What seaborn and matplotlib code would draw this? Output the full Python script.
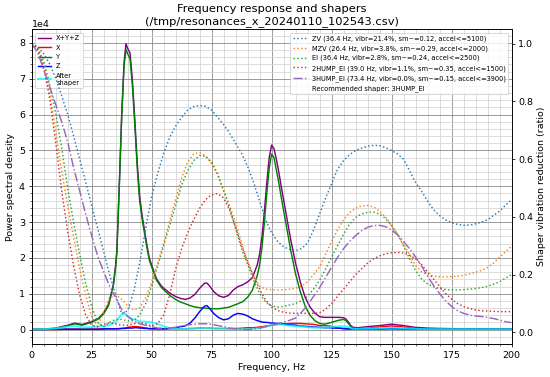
import numpy as np
import pandas as pd
import matplotlib
matplotlib.use("Agg")
import matplotlib.pyplot as plt
import matplotlib.ticker as ticker
import seaborn as sns

# PSD curves (values in 1e4 units)
psd_freq = [0, 5, 10, 15, 18, 21, 25, 28, 30, 32, 34, 35, 35.5, 36.5, 37.5, 38.5, 39.3, 40, 41, 42,
            43, 44, 45, 46, 47, 48, 49, 50, 52, 54, 56, 58, 60, 62, 64, 66, 68, 70, 72, 73,
            74, 76, 78, 80, 82, 84, 86, 88, 90, 92, 94, 95, 96, 97, 98, 99, 100, 101, 102, 103,
            104, 106, 108, 110, 112, 114, 116, 118, 120, 122, 124, 126, 128, 130, 131, 132, 133, 134, 136, 140,
            145, 150, 155, 160, 165, 170, 180, 190, 200]

psd_sum = [0, 0.01, 0.04, 0.12, 0.18, 0.14, 0.22, 0.32, 0.47, 0.7, 1.24, 1.8, 2.2, 4.0, 5.95, 7.45, 7.98, 7.85, 7.72, 6.95,
           5.85, 4.65, 3.72, 3.2, 2.78, 2.37, 2.0, 1.8, 1.42, 1.22, 1.1, 1.0, 0.92, 0.87, 0.84, 0.88, 0.98, 1.15, 1.29, 1.3,
           1.23, 1.05, 0.94, 0.9, 0.95, 1.1, 1.2, 1.25, 1.33, 1.45, 1.8, 2.1, 2.6, 3.3, 4.1, 4.8, 5.15, 5.05, 4.75, 4.4,
           4.0, 3.25, 2.5, 1.85, 1.32, 0.9, 0.63, 0.46, 0.36, 0.34, 0.34, 0.34, 0.34, 0.33, 0.29, 0.21, 0.11, 0.06, 0.05, 0.08,
           0.11, 0.15, 0.11, 0.06, 0.04, 0.03, 0.02, 0.02, 0.02]

psd_x = [0, 0, 0, 0.01, 0.01, 0.01, 0.01, 0.01, 0.01, 0.02, 0.02, 0.02, 0.02, 0.03, 0.03, 0.04, 0.05, 0.06, 0.07, 0.08,
         0.08, 0.08, 0.07, 0.06, 0.05, 0.04, 0.03, 0.03, 0.02, 0.02, 0.02, 0.02, 0.02, 0.02, 0.02, 0.03, 0.03, 0.04, 0.04, 0.04,
         0.04, 0.03, 0.03, 0.03, 0.03, 0.03, 0.03, 0.04, 0.05, 0.05, 0.06, 0.07, 0.08, 0.09, 0.1, 0.11, 0.12, 0.13, 0.14, 0.15,
         0.15, 0.16, 0.17, 0.17, 0.17, 0.16, 0.15, 0.14, 0.11, 0.11, 0.1, 0.07, 0.04, 0.02, 0.01, 0.01, 0.01, 0.01, 0.01, 0.04,
         0.07, 0.1, 0.07, 0.03, 0.02, 0.01, 0.01, 0.01, 0.01]

psd_y = [0, 0.01, 0.03, 0.1, 0.16, 0.12, 0.2, 0.3, 0.44, 0.66, 1.2, 1.75, 2.15, 3.95, 5.9, 7.35, 7.82, 7.7, 7.55, 6.8,
         5.7, 4.5, 3.6, 3.1, 2.7, 2.3, 1.95, 1.75, 1.38, 1.18, 1.05, 0.93, 0.84, 0.77, 0.72, 0.67, 0.63, 0.61, 0.6, 0.59,
         0.59, 0.58, 0.58, 0.6, 0.62, 0.67, 0.72, 0.78, 0.9, 1.1, 1.5, 1.8, 2.3, 3.0, 3.8, 4.5, 4.9, 4.8, 4.45, 4.1,
         3.7, 2.95, 2.2, 1.55, 1.05, 0.65, 0.4, 0.25, 0.17, 0.15, 0.18, 0.22, 0.26, 0.28, 0.25, 0.17, 0.08, 0.03, 0.02, 0.02,
         0.02, 0.02, 0.02, 0.01, 0.01, 0.01, 0.01, 0.01, 0.01]

psd_z = [0, 0, 0.01, 0.01, 0.01, 0.01, 0.01, 0.01, 0.02, 0.02, 0.02, 0.02, 0.02, 0.02, 0.03, 0.03, 0.03, 0.04, 0.04, 0.04,
         0.05, 0.05, 0.04, 0.04, 0.03, 0.03, 0.02, 0.02, 0.02, 0.02, 0.02, 0.04, 0.05, 0.08, 0.1, 0.18, 0.32, 0.5, 0.65, 0.67,
         0.6, 0.44, 0.33, 0.27, 0.3, 0.4, 0.45, 0.43, 0.38, 0.3, 0.25, 0.23, 0.21, 0.2, 0.2, 0.19, 0.18, 0.18, 0.17, 0.17,
         0.16, 0.14, 0.13, 0.12, 0.1, 0.09, 0.08, 0.07, 0.06, 0.05, 0.05, 0.04, 0.04, 0.03, 0.03, 0.03, 0.02, 0.02, 0.02, 0.02,
         0.02, 0.03, 0.02, 0.02, 0.01, 0.01, 0.01, 0.01, 0.01]

psd_after = [0, 0.01, 0.03, 0.08, 0.1, 0.06, 0.07, 0.08, 0.1, 0.11, 0.17, 0.22, 0.25, 0.35, 0.42, 0.45, 0.42, 0.38, 0.33, 0.3,
             0.28, 0.25, 0.23, 0.22, 0.22, 0.21, 0.21, 0.2, 0.17, 0.12, 0.07, 0.03, 0.02, 0.02, 0.02, 0.02, 0.03, 0.03, 0.04, 0.04,
             0.03, 0.03, 0.02, 0.02, 0.01, 0.01, 0.01, 0.01, 0.01, 0.02, 0.03, 0.03, 0.05, 0.07, 0.08, 0.1, 0.13, 0.14, 0.14, 0.14,
             0.14, 0.12, 0.11, 0.09, 0.09, 0.07, 0.06, 0.05, 0.05, 0.06, 0.07, 0.08, 0.09, 0.09, 0.09, 0.07, 0.04, 0.02, 0.02, 0.03,
             0.04, 0.05, 0.04, 0.02, 0.01, 0.01, 0.01, 0.01, 0.01]

# shaper vibration reduction curves
shaper_freq = [0, 2.5, 5, 7.5, 10, 12.5, 15, 17.5, 20, 22.5,
               25, 27.5, 30, 32.5, 35, 37.5, 40, 42.5, 45, 47.5,
               50, 52.5, 55, 57.5, 60, 62.5, 65, 67.5, 70, 72.5,
               75, 77.5, 80, 82.5, 85, 87.5, 90, 92.5, 95, 97.5,
               100, 102.5, 105, 107.5, 110, 112.5, 115, 117.5, 120, 122.5,
               125, 127.5, 130, 132.5, 135, 137.5, 140, 142.5, 145, 147.5,
               150, 152.5, 155, 157.5, 160, 162.5, 165, 167.5, 170, 172.5,
               175, 177.5, 180, 182.5, 185, 187.5, 190, 192.5, 195, 197.5,
               200]

zv = [1.0, 0.99, 0.965, 0.93, 0.88, 0.82, 0.755, 0.68, 0.60, 0.52,
      0.44, 0.36, 0.28, 0.20, 0.13, 0.065, 0.075, 0.14, 0.24, 0.36,
      0.47, 0.55, 0.62, 0.675, 0.715, 0.745, 0.77, 0.782, 0.786, 0.783,
      0.77, 0.745, 0.72, 0.69, 0.655, 0.62, 0.575, 0.52, 0.455, 0.39,
      0.345, 0.315, 0.297, 0.287, 0.283, 0.29, 0.31, 0.355, 0.41, 0.465,
      0.515, 0.565, 0.595, 0.615, 0.63, 0.638, 0.645, 0.648, 0.647, 0.64,
      0.63, 0.618, 0.6, 0.56, 0.52, 0.49, 0.455, 0.425, 0.405, 0.39,
      0.38, 0.374, 0.371, 0.372, 0.376, 0.382, 0.39, 0.405, 0.42, 0.44,
      0.46]

mzv = [1.0, 0.985, 0.93, 0.83, 0.70, 0.56, 0.44, 0.33, 0.22, 0.13,
       0.055, 0.02, 0.07, 0.12, 0.13, 0.115, 0.092, 0.078, 0.085, 0.12,
       0.175, 0.24, 0.31, 0.385, 0.46, 0.535, 0.59, 0.618, 0.623, 0.61,
       0.585, 0.545, 0.495, 0.44, 0.38, 0.31, 0.245, 0.195, 0.16, 0.15,
       0.148, 0.147, 0.148, 0.15, 0.153, 0.16, 0.175, 0.2, 0.227, 0.27,
       0.315, 0.355, 0.39, 0.415, 0.43, 0.438, 0.44, 0.435, 0.42, 0.4,
       0.37, 0.34, 0.305, 0.27, 0.232, 0.21, 0.2, 0.195, 0.193, 0.192,
       0.193, 0.195, 0.198, 0.203, 0.208, 0.215, 0.225, 0.24, 0.26, 0.28,
       0.298]

ei = [1.0, 0.985, 0.94, 0.86, 0.76, 0.64, 0.50, 0.38, 0.27, 0.17,
      0.09, 0.035, 0.02, 0.035, 0.045, 0.045, 0.04, 0.04, 0.06, 0.1,
      0.16, 0.23, 0.3, 0.37, 0.44, 0.51, 0.56, 0.595, 0.613, 0.61,
      0.59, 0.55, 0.49, 0.43, 0.36, 0.29, 0.235, 0.18, 0.135, 0.105,
      0.092, 0.088, 0.09, 0.095, 0.1, 0.11, 0.125, 0.15, 0.18, 0.22,
      0.26, 0.3, 0.34, 0.375, 0.398, 0.41, 0.416, 0.417, 0.41, 0.395,
      0.37, 0.34, 0.3, 0.255, 0.215, 0.185, 0.168, 0.158, 0.152, 0.149,
      0.147, 0.147, 0.148, 0.15, 0.152, 0.155, 0.16, 0.167, 0.175, 0.188,
      0.2]

hump2 = [1.0, 0.98, 0.92, 0.81, 0.66, 0.49, 0.35, 0.23, 0.13, 0.06,
         0.025, 0.02, 0.028, 0.033, 0.03, 0.025, 0.025, 0.03, 0.033, 0.03,
         0.022, 0.03, 0.06, 0.13, 0.22, 0.29, 0.345, 0.39, 0.43, 0.46,
         0.477, 0.481, 0.466, 0.425, 0.365, 0.3, 0.245, 0.195, 0.15, 0.112,
         0.088, 0.076, 0.07, 0.067, 0.066, 0.066, 0.066, 0.066, 0.068, 0.08,
         0.1, 0.125, 0.15, 0.175, 0.2, 0.22, 0.24, 0.255, 0.265, 0.272,
         0.276, 0.277, 0.275, 0.268, 0.255, 0.235, 0.21, 0.185, 0.16, 0.135,
         0.115, 0.1, 0.09, 0.083, 0.078, 0.075, 0.074, 0.073, 0.072, 0.072,
         0.072]

hump3 = [1.0, 0.97, 0.91, 0.85, 0.79, 0.73, 0.66, 0.57, 0.49, 0.41,
         0.335, 0.265, 0.21, 0.16, 0.12, 0.08, 0.055, 0.04, 0.03, 0.025,
         0.02, 0.015, 0.015, 0.015, 0.018, 0.022, 0.026, 0.028, 0.03, 0.03,
         0.028, 0.024, 0.02, 0.015, 0.012, 0.01, 0.01, 0.012, 0.015, 0.02,
         0.025, 0.03, 0.035, 0.042, 0.05, 0.07, 0.095, 0.125, 0.155, 0.19,
         0.225, 0.26, 0.29, 0.315, 0.335, 0.352, 0.364, 0.37, 0.371, 0.366,
         0.355, 0.338, 0.315, 0.29, 0.262, 0.23, 0.195, 0.163, 0.135, 0.11,
         0.09, 0.075, 0.066, 0.06, 0.057, 0.055, 0.052, 0.048, 0.043, 0.037,
         0.034]

shaper_labels = [
    "ZV (36.4 Hz, vibr=21.4%, sm~=0.12, accel<=5100)",
    "MZV (26.4 Hz, vibr=3.8%, sm~=0.29, accel<=2000)",
    "EI (36.4 Hz, vibr=2.8%, sm~=0.24, accel<=2500)",
    "2HUMP_EI (39.0 Hz, vibr=1.1%, sm~=0.35, accel<=1500)",
    "3HUMP_EI (73.4 Hz, vibr=0.0%, sm~=0.15, accel<=3900)",
]
selected = "3HUMP_EI"

psd = pd.DataFrame({"freq": psd_freq, "sum": psd_sum, "x": psd_x, "y": psd_y,
                    "z": psd_z, "after": psd_after})
psd[["sum", "x", "y", "z", "after"]] *= 1e4
shp = pd.DataFrame({"freq": shaper_freq, "zv": zv, "mzv": mzv, "ei": ei,
                    "hump2": hump2, "hump3": hump3})

fig, ax = plt.subplots(figsize=(8, 377 / 68.75), dpi=68.75)
fig.subplots_adjust(left=0.0576, right=0.930, bottom=0.088, top=0.922)

ax.set_xlim([0, 200])
sns.lineplot(data=psd, x="freq", y="sum", ax=ax, color="purple", label="X+Y+Z")
sns.lineplot(data=psd, x="freq", y="x", ax=ax, color="red", label="X")
sns.lineplot(data=psd, x="freq", y="y", ax=ax, color="green", label="Y")
sns.lineplot(data=psd, x="freq", y="z", ax=ax, color="blue", label="Z")

ax.set_title("Frequency response and shapers\n(/tmp/resonances_x_20240110_102543.csv)")
ax.xaxis.set_minor_locator(ticker.MultipleLocator(5))
ax.yaxis.set_minor_locator(ticker.AutoMinorLocator())
ax.ticklabel_format(axis="y", style="scientific", scilimits=(0, 0))
ax.grid(which="major", color="grey")
ax.grid(which="minor", color="lightgrey")

ax2 = ax.twinx()
cols = ["zv", "mzv", "ei", "hump2", "hump3"]
colors = ["tab:blue", "tab:orange", "tab:green", "tab:red", "tab:purple"]
for col, lab, c in zip(cols, shaper_labels, colors):
    ls = "-." if lab.startswith(selected) else ":"
    sns.lineplot(data=shp, x="freq", y=col, ax=ax2, color=c, label=lab, linestyle=ls)

sns.lineplot(data=psd, x="freq", y="after", ax=ax, color="cyan", label="After\nshaper", lw=2, alpha=0.8)
ax2.plot([], [], " ", label="Recommended shaper: %s" % selected)

ax.set_xlabel("Frequency, Hz")
ax.set_ylabel("Power spectral density")
ax2.set_ylabel("Shaper vibration reduction (ratio)")
ax.set_xlim([0, 200])

ax.legend(loc="upper left", prop={"size": "x-small"})
ax2.legend(loc="upper right", prop={"size": "x-small"})

fig.savefig("out.png", dpi=68.75)
